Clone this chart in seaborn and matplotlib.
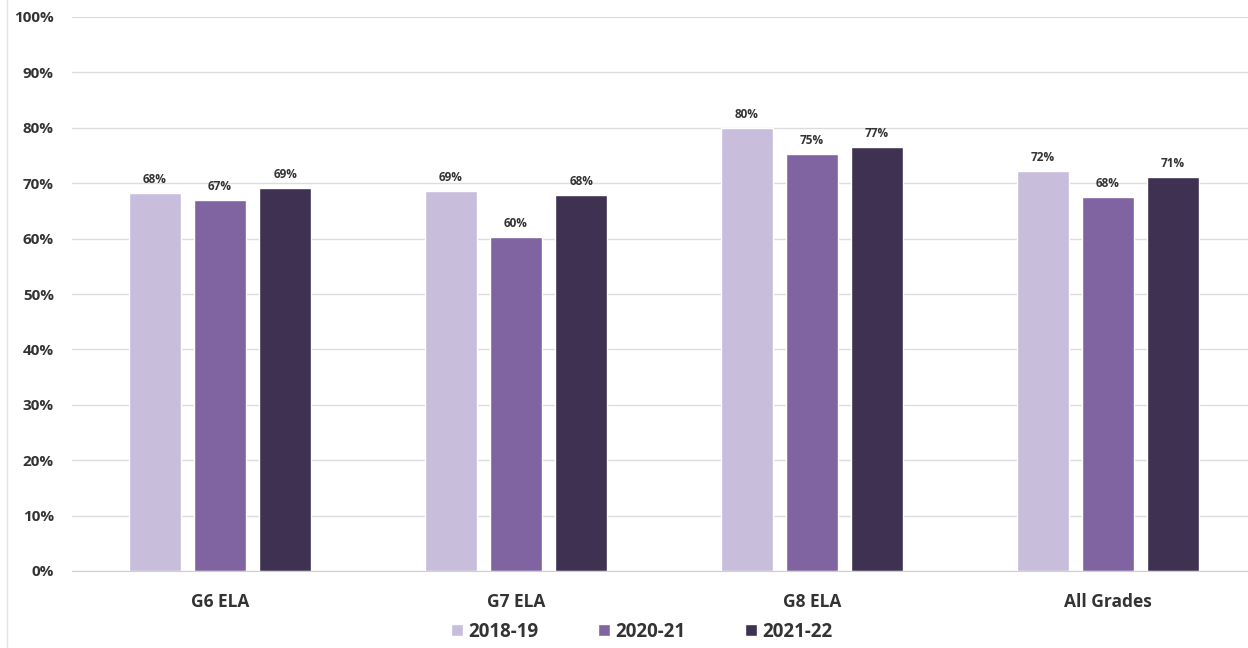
import numpy as np
import seaborn as sns
import matplotlib.pyplot as plt
import pandas as pd
from matplotlib.lines import Line2D

#%% data
Categories = ["G6 ELA", "G7 ELA", "G8 ELA", "All Grades"]
Years      = ["2018-19", "2020-21", "2021-22"]

Vals_2018  = [68.2, 68.6, 80.0, 72.2]
Vals_2020  = [67.0, 60.3, 75.3, 67.5]
Vals_2021  = [69.2, 67.9, 76.6, 71.1]

df = pd.concat([pd.DataFrame({"Group": Categories, "Value": v, "Year": y})
                for v, y in zip([Vals_2018, Vals_2020, Vals_2021], Years)],
               ignore_index=True)

Colors    = ["#C8BEDB", "#8064A2", "#3F3151"]
Yticks    = np.arange(0, 101, 10)
TextColor = "#333333"
FontName  = "Open Sans"

#%% plot
sns.set_style("white")
plt.rcParams["font.family"] = [FontName, "DejaVu Sans"]

Fig = plt.figure(figsize=[12.48, 6.48], dpi=100)
ax = Fig.add_axes([72/1248, 77/648, 1176/1248, 554/648])

sns.barplot(ax=ax, data=df, x="Group", y="Value", hue="Year",
            palette=Colors, saturation=1, width=0.66, gap=0.2, legend=True)

for cont in ax.containers:
    ax.bar_label(cont, fmt="%.0f%%", padding=5, fontsize=8.5,
                 fontweight="bold", color=TextColor)

ax.set_ylim(0, 100)
ax.set_xlim(-0.5, 3.473)
ax.set_yticks(Yticks)
ax.set_yticklabels([f"{t}%" for t in Yticks], fontsize=11,
                   fontweight="bold", color=TextColor)
ax.set_xticks(range(len(Categories)))
ax.set_xticklabels(Categories, fontsize=12.5, fontweight="bold", color=TextColor)
ax.set_xlabel("")
ax.set_ylabel("")
ax.tick_params(axis="y", length=0, pad=13)
ax.tick_params(axis="x", length=0, pad=16)

ax.yaxis.grid(True, color="#DDDDDD", linewidth=1)
ax.set_axisbelow(True)
ax.spines[["right", "top", "left"]].set_visible(False)
ax.spines["bottom"].set_color("#D0D0D0")

handles, labels = ax.get_legend_handles_labels()
ax.legend(handles, labels, loc="center", bbox_to_anchor=(642/1248, 1 - 632/648),
          bbox_transform=Fig.transFigure, ncol=3, frameon=False,
          handlelength=0.6, handleheight=0.6, handletextpad=0.3,
          columnspacing=3.2, prop={"size": 13.5, "weight": "bold"},
          labelcolor=TextColor)

# faint left border of the original image
Fig.add_artist(Line2D([7/1248, 7/1248], [0, 1], transform=Fig.transFigure,
                      color="#E4E4E4", linewidth=1))

plt.savefig("out.png", dpi=100)
